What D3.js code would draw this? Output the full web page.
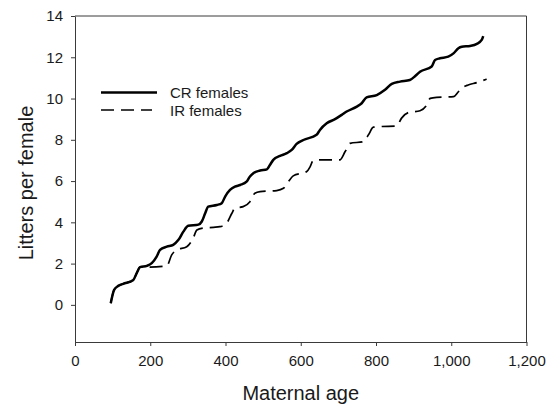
<!DOCTYPE html>
<html>
<head>
<meta charset="utf-8">
<script src="https://cdn.jsdelivr.net/npm/d3@7"></script>
<style>
  html, body { margin: 0; padding: 0; background: #fff; }
  svg { display: block; font-family: "Liberation Sans", Arial, sans-serif; }
</style>
</head>
<body>
<svg id="chart" width="550" height="408"></svg>
<script>
// Data
const crAge = [95, 104, 115, 128, 155, 164, 173, 191, 204, 217, 226, 244, 261, 275, 288, 301, 328, 337, 346, 354, 377, 390, 399, 412, 425, 439, 456, 465, 474, 492, 510, 518, 527, 545, 563, 576, 589, 607, 642, 651, 669, 691, 709, 722, 749, 762, 775, 802, 824, 842, 864, 890, 905, 917, 948, 957, 970, 992, 1006, 1019, 1028, 1050, 1068, 1081, 1085];
const crLitters = [0.08, 0.73, 0.92, 1.02, 1.21, 1.54, 1.83, 1.89, 2.02, 2.34, 2.66, 2.82, 2.91, 3.15, 3.55, 3.83, 3.89, 4.04, 4.44, 4.76, 4.84, 4.93, 5.25, 5.57, 5.73, 5.81, 5.97, 6.22, 6.38, 6.51, 6.57, 6.78, 7.03, 7.22, 7.35, 7.51, 7.80, 7.99, 8.24, 8.48, 8.80, 9.00, 9.21, 9.37, 9.61, 9.77, 10.06, 10.17, 10.42, 10.71, 10.82, 10.90, 11.10, 11.30, 11.55, 11.87, 11.95, 12.03, 12.19, 12.44, 12.51, 12.55, 12.65, 12.84, 13.03];

const irAge = [95, 104, 115, 128, 155, 164, 173, 191, 244, 257, 270, 297, 314, 324, 341, 368, 385, 403, 417, 425, 447, 465, 478, 492, 536, 554, 567, 580, 616, 625, 633, 656, 704, 718, 731, 766, 780, 793, 811, 855, 868, 886, 917, 935, 944, 961, 1006, 1019, 1028, 1045, 1068, 1094];
const irLitters = [0.08, 0.73, 0.92, 1.02, 1.21, 1.54, 1.83, 1.83, 1.89, 2.42, 2.66, 2.82, 3.23, 3.63, 3.72, 3.76, 3.79, 3.96, 4.44, 4.69, 4.76, 5.00, 5.41, 5.49, 5.54, 5.65, 5.97, 6.25, 6.46, 6.70, 6.99, 7.03, 7.03, 7.43, 7.83, 7.91, 8.24, 8.61, 8.64, 8.67, 9.05, 9.32, 9.41, 9.69, 10.01, 10.06, 10.09, 10.33, 10.50, 10.66, 10.77, 10.94];

const xTicks = [0, 200, 400, 600, 800, 1000, 1200];
const yTicks = [0, 2, 4, 6, 8, 10, 12, 14];
const seriesNames = ["CR females", "IR females"];

(function () {
const svg = d3.select("#chart");
const mLeft = 75, mRight = 526.5, mTop = 16, mBottom = 342;

const x = d3.scaleLinear().domain([0, 1200]).range([mLeft, mRight]);
const y = d3.scaleLinear().domain([-1.8, 14]).range([mBottom, mTop]);

const axisColor = "#3a3a3a";
const textColor = "#1a1a1a";

// Frame (top and right)
svg.append("path")
  .attr("d", `M${mLeft},${mTop}H${mRight}V${mBottom}`)
  .attr("fill", "none").attr("stroke", axisColor).attr("stroke-width", 1);

// X axis
const xAxis = svg.append("g")
  .attr("transform", `translate(0,${mBottom})`)
  .call(d3.axisBottom(x).tickValues(xTicks).tickSize(4).tickPadding(9)
        .tickFormat(d3.format(",")).tickSizeOuter(0));
xAxis.select(".domain").attr("stroke", axisColor);
xAxis.selectAll(".tick line").attr("stroke", axisColor);
xAxis.selectAll("text").attr("font-size", 15).attr("fill", textColor)
  .attr("font-family", "Liberation Sans, Arial, sans-serif");

// Y axis
const yAxis = svg.append("g")
  .attr("transform", `translate(${mLeft},0)`)
  .call(d3.axisLeft(y).tickValues(yTicks).tickSize(4).tickPadding(8).tickSizeOuter(0));
yAxis.select(".domain").attr("stroke", axisColor);
yAxis.selectAll(".tick line").attr("stroke", axisColor);
yAxis.selectAll("text").attr("font-size", 15).attr("fill", textColor)
  .attr("font-family", "Liberation Sans, Arial, sans-serif");

// Axis titles
svg.append("text")
  .attr("x", (mLeft + mRight) / 2).attr("y", 400)
  .attr("text-anchor", "middle").attr("font-size", 20).attr("fill", textColor)
  .text("Maternal age");
svg.append("text")
  .attr("transform", `translate(33,183) rotate(-90)`)
  .attr("text-anchor", "middle").attr("font-size", 20).attr("fill", textColor)
  .text("Litters per female");

// Lines
const line = d3.line().x(d => x(d[0])).y(d => y(d[1])).curve(d3.curveMonotoneX);
const crData = crAge.map((a, i) => [a, crLitters[i]]);
const irData = irAge.map((a, i) => [a, irLitters[i]]);

svg.append("path").datum(irData)
  .attr("d", line).attr("fill", "none").attr("stroke", "#000")
  .attr("stroke-width", 1.7).attr("stroke-dasharray", "13,7");
svg.append("path").datum(crData)
  .attr("d", line).attr("fill", "none").attr("stroke", "#000")
  .attr("stroke-width", 2.5);

// Legend
const legend = svg.append("g");
const legY = [92.5, 110];
legend.append("line").attr("x1", 101).attr("x2", 157).attr("y1", legY[0]).attr("y2", legY[0])
  .attr("stroke", "#000").attr("stroke-width", 2.5);
legend.append("line").attr("x1", 101).attr("x2", 152).attr("y1", legY[1]).attr("y2", legY[1])
  .attr("stroke", "#000").attr("stroke-width", 1.7).attr("stroke-dasharray", "13,7");
seriesNames.forEach((n, i) => {
  legend.append("text").attr("x", 170).attr("y", legY[i] + 5.5)
    .attr("font-size", 15).attr("fill", textColor).text(n);
});
})();
</script>
</body>
</html>
